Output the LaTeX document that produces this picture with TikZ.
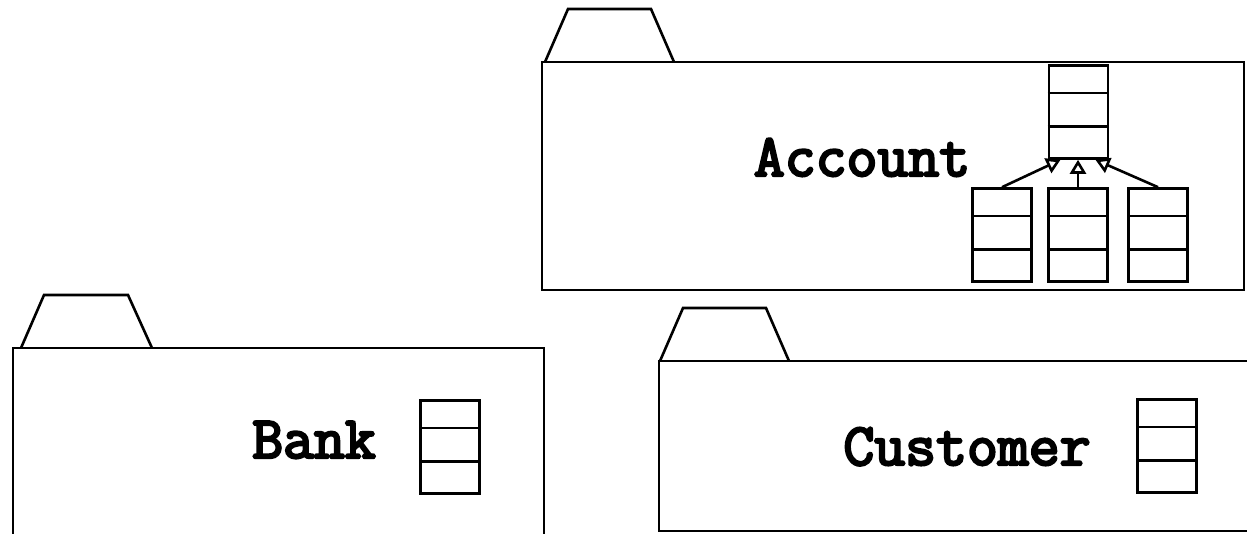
\documentclass[tikz,border=0pt]{standalone}
\usepackage{fontspec}
\newfontfamily\umlfont[FakeBold=4]{Latin Modern Mono}
\usetikzlibrary{arrows.meta}
\usetikzlibrary{calc}

\tikzset{
  pkgline/.style={line width=2.6pt, line join=miter},
  classbox/.style={draw, line width=2.6pt, inner sep=0pt, minimum width=59pt, minimum height=93pt},
  pkgname/.style={anchor=base, inner sep=0pt, font=\umlfont\fontsize{60}{66}\selectfont},
  inherits/.style={line width=2.6pt, -{Triangle[open,length=14pt,width=16pt]}}
}

\begin{document}
\begin{tikzpicture}[x=1pt,y=-1pt]

      \useasboundingbox (0,0) rectangle (1247,533);

      % Account package
      \draw[pkgline] (545,62) -- (568,9) -- (651,9) -- (674,62);
      \draw[pkgline] (542,62) rectangle (1244,290);
      \node[pkgname] (account) at (862,176) {Account};

      % Bank package
      \draw[pkgline] (21,348) -- (44,295) -- (128,295) -- (152,348);
      \draw[pkgline] (13,348) rectangle (544,560);
      \node[pkgname] (bank) at (314,458) {Bank};

      % Customer package
      \draw[pkgline] (660,361) -- (683,308) -- (766,308) -- (789,361);
      \draw[pkgline] (659,361) rectangle (1270,531);
      \node[pkgname] (customer) at (967,465) {Customer};

      % classes
      \node[classbox] (supcls) at (1078.5,112) {};
      \node[classbox] (subA) at (1002,235) {};
      \node[classbox] (subB) at (1078,235) {};
      \node[classbox] (subC) at (1158,235) {};
      \node[classbox] (bankcls) at (450,447) {};
      \node[classbox] (custcls) at (1167,446) {};

      \foreach \c in {supcls,subA,subB,subC,bankcls,custcls}
        \foreach \f in {0.3,0.65}
          \draw[pkgline] ($(\c.north west)!\f!(\c.south west)$) -- ($(\c.north east)!\f!(\c.south east)$);

      \draw[inherits] (subA.north) -- ([xshift=-18pt]supcls.south);
      \draw[inherits] (subB.north) -- ([xshift=-0.5pt]supcls.south);
      \draw[inherits] (subC.north) -- ([xshift=17pt]supcls.south);
    \end{tikzpicture}
\end{document}
